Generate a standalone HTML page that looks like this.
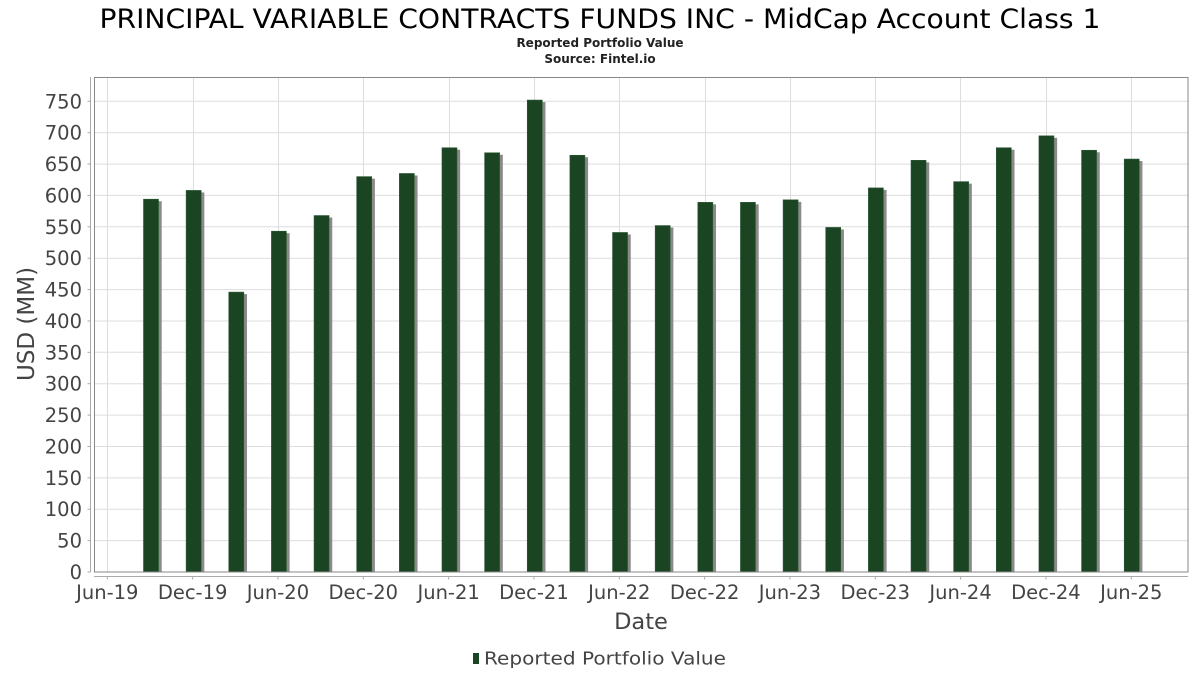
<!DOCTYPE html>
<html><head><meta charset="utf-8"><style>
html,body{margin:0;padding:0;background:#fff;}
svg{display:block;}
</style></head><body>
<svg width="1200" height="675" viewBox="0 0 1200 675" xmlns="http://www.w3.org/2000/svg" font-family="DejaVu Sans, Liberation Sans, sans-serif">
<rect width="1200" height="675" fill="#fff"/>
<text x="600" y="28" text-anchor="middle" font-size="27" fill="#000" textLength="1001" lengthAdjust="spacingAndGlyphs">PRINCIPAL VARIABLE CONTRACTS FUNDS INC - MidCap Account Class 1</text>
<text x="600" y="47" text-anchor="middle" font-size="12" font-weight="bold" fill="#222">Reported Portfolio Value</text>
<text x="600" y="63" text-anchor="middle" font-size="12" font-weight="bold" fill="#222">Source: Fintel.io</text>

<g id="grid" stroke="#dddddd" stroke-width="1">
<line x1="94.5" x2="1188" y1="540.6" y2="540.6"/>
<line x1="94.5" x2="1188" y1="509.2" y2="509.2"/>
<line x1="94.5" x2="1188" y1="477.9" y2="477.9"/>
<line x1="94.5" x2="1188" y1="446.5" y2="446.5"/>
<line x1="94.5" x2="1188" y1="415.1" y2="415.1"/>
<line x1="94.5" x2="1188" y1="383.7" y2="383.7"/>
<line x1="94.5" x2="1188" y1="352.3" y2="352.3"/>
<line x1="94.5" x2="1188" y1="321.0" y2="321.0"/>
<line x1="94.5" x2="1188" y1="289.6" y2="289.6"/>
<line x1="94.5" x2="1188" y1="258.2" y2="258.2"/>
<line x1="94.5" x2="1188" y1="226.8" y2="226.8"/>
<line x1="94.5" x2="1188" y1="195.4" y2="195.4"/>
<line x1="94.5" x2="1188" y1="164.1" y2="164.1"/>
<line x1="94.5" x2="1188" y1="132.7" y2="132.7"/>
<line x1="94.5" x2="1188" y1="101.3" y2="101.3"/>
<line y1="77" y2="572" x1="107.5" x2="107.5"/>
<line y1="77" y2="572" x1="193.5" x2="193.5"/>
<line y1="77" y2="572" x1="278.5" x2="278.5"/>
<line y1="77" y2="572" x1="363.5" x2="363.5"/>
<line y1="77" y2="572" x1="449.5" x2="449.5"/>
<line y1="77" y2="572" x1="534.5" x2="534.5"/>
<line y1="77" y2="572" x1="619.5" x2="619.5"/>
<line y1="77" y2="572" x1="705.5" x2="705.5"/>
<line y1="77" y2="572" x1="790.5" x2="790.5"/>
<line y1="77" y2="572" x1="875.5" x2="875.5"/>
<line y1="77" y2="572" x1="960.5" x2="960.5"/>
<line y1="77" y2="572" x1="1046.5" x2="1046.5"/>
<line y1="77" y2="572" x1="1131.5" x2="1131.5"/>
</g>

<g id="bars"></g>

<rect x="94.5" y="77.5" width="1093.5" height="494.5" fill="none" stroke="#888" stroke-width="1"/>
<!-- y axis -->
<line x1="90.5" x2="90.5" y1="77" y2="572" stroke="#aaa" stroke-width="1"/>
<!-- x axis -->
<line x1="94" x2="1188" y1="576.5" y2="576.5" stroke="#aaa" stroke-width="1"/>

<g id="yticks" font-size="19.5" fill="#444" text-anchor="end"></g>
<g id="xticks" font-size="19.5" fill="#444" text-anchor="middle"></g>

<text transform="translate(34,324) rotate(-90)" text-anchor="middle" font-size="23" fill="#444">USD (MM)</text>
<text x="641" y="629" text-anchor="middle" font-size="22.5" fill="#444">Date</text>
<rect x="473" y="653" width="6" height="11" fill="#1a4422"/>
<text x="484" y="664.5" font-size="18" fill="#444" textLength="242" lengthAdjust="spacingAndGlyphs">Reported Portfolio Value</text>

<script>
(function(){
var NS="http://www.w3.org/2000/svg";
var vals=[594,608,446,543,568,630,635,676,668,752,664,541,552,589,589,593,549,612,656,622,676,695,672,658];
var k=0.6276, base=572;
var g=document.getElementById('bars');
vals.forEach(function(v,i){
  var c=151+i*42.64, top=base-v*k;
  var s=document.createElementNS(NS,'rect');
  s.setAttribute('x',c+7.5);s.setAttribute('y',top+2);s.setAttribute('width',3.2);s.setAttribute('height',base-top-2);
  s.setAttribute('fill','#8a8a8a');g.appendChild(s);
  var r=document.createElementNS(NS,'rect');
  r.setAttribute('x',c-7.5);r.setAttribute('y',top);r.setAttribute('width',15);r.setAttribute('height',base-top);
  r.setAttribute('fill','#1a4422');r.setAttribute('stroke','#2d5a35');r.setAttribute('stroke-width','0.6');g.appendChild(r);
});
var yt=document.getElementById('yticks');
for(var v=0;v<=750;v+=50){
  var y=base-v*k;
  var t=document.createElementNS(NS,'text');
  t.setAttribute('x',82);t.setAttribute('y',y+7);t.textContent=v;yt.appendChild(t);
  var l=document.createElementNS(NS,'line');
  l.setAttribute('x1',87.5);l.setAttribute('x2',90.5);l.setAttribute('y1',y);l.setAttribute('y2',y);
  l.setAttribute('stroke','#aaa');yt.appendChild(l);
}
var labs=['Jun-19','Dec-19','Jun-20','Dec-20','Jun-21','Dec-21','Jun-22','Dec-22','Jun-23','Dec-23','Jun-24','Dec-24','Jun-25'];
var xt=document.getElementById('xticks');
labs.forEach(function(s,i){
  var x=107.3+i*85.33;
  var t=document.createElementNS(NS,'text');
  t.setAttribute('x',x);t.setAttribute('y',599);t.textContent=s;xt.appendChild(t);
  var l=document.createElementNS(NS,'line');
  l.setAttribute('x1',x);l.setAttribute('x2',x);l.setAttribute('y1',576.5);l.setAttribute('y2',579.5);
  l.setAttribute('stroke','#aaa');xt.appendChild(l);
});
})();
</script>
</svg>
</body></html>
